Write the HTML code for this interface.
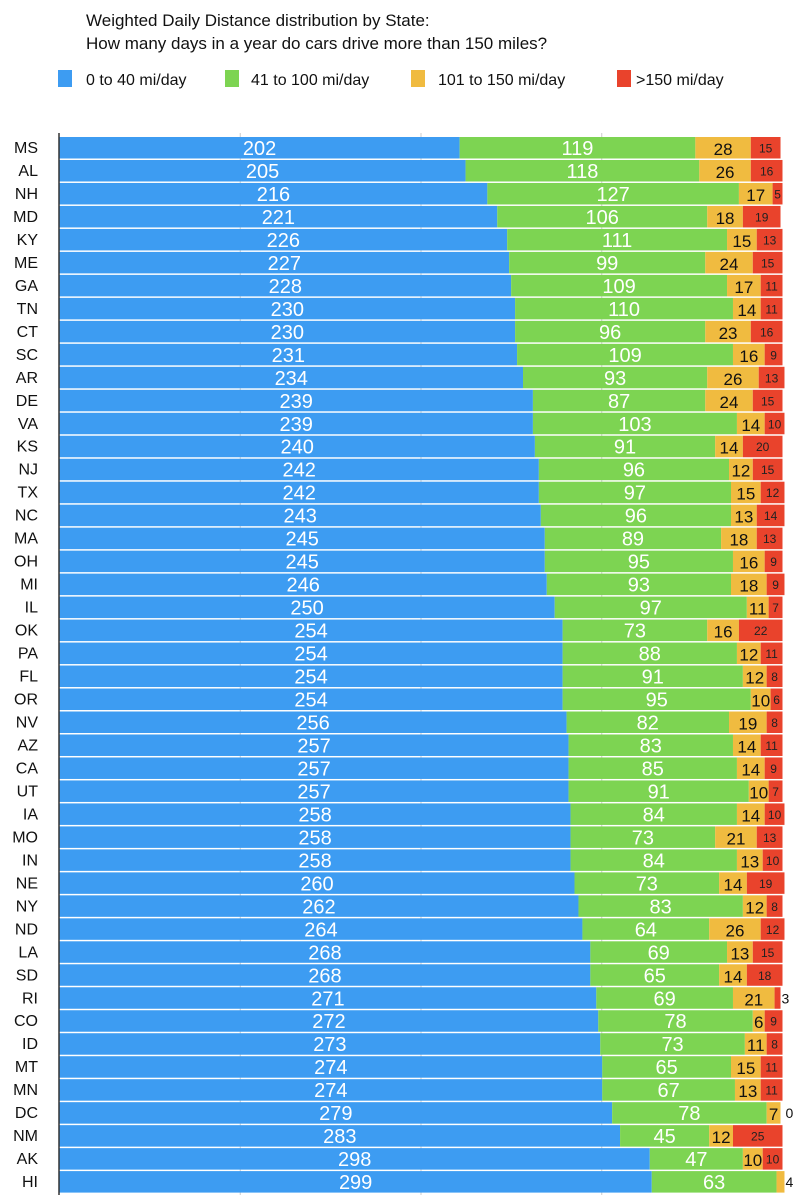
<!DOCTYPE html>
<html><head><meta charset="utf-8">
<style>
html,body{margin:0;padding:0;background:#fff;}
svg{display:block;font-family:"Liberation Sans",sans-serif;}
</style></head>
<body>
<svg id="chart" width="806" height="1200" viewBox="0 0 806 1200" xmlns="http://www.w3.org/2000/svg">
<text x="86" y="26" font-size="17" fill="#111">Weighted Daily Distance distribution by State:</text>
<text x="86" y="49" font-size="17" fill="#111">How many days in a year do cars drive more than 150 miles?</text>
<g font-size="16" fill="#111">
<rect x="58" y="70" width="14" height="17" fill="#3d9cf2"/>
<text x="86" y="85">0 to 40 mi/day</text>
<rect x="225" y="70" width="14" height="17" fill="#7dd452"/>
<text x="251" y="85">41 to 100 mi/day</text>
<rect x="411" y="70" width="14" height="17" fill="#f0bb40"/>
<text x="438" y="85">101 to 150 mi/day</text>
<rect x="617" y="70" width="14" height="17" fill="#e9432c"/>
<text x="636" y="85">&gt;150 mi/day</text>
</g>
<g id="grid"></g>
<g id="bars"></g>
<line x1="59" y1="133" x2="59" y2="1195" stroke="#333" stroke-width="1.5"/>
</svg>
<script>
const states=["MS","AL","NH","MD","KY","ME","GA","TN","CT","SC","AR","DE","VA","KS","NJ","TX","NC","MA","OH","MI","IL","OK","PA","FL","OR","NV","AZ","CA","UT","IA","MO","IN","NE","NY","ND","LA","SD","RI","CO","ID","MT","MN","DC","NM","AK","HI"];
const low=[202,205,216,221,226,227,228,230,230,231,234,239,239,240,242,242,243,245,245,246,250,254,254,254,254,256,257,257,257,258,258,258,260,262,264,268,268,271,272,273,274,274,279,283,298,299];
const mid=[119,118,127,106,111,99,109,110,96,109,93,87,103,91,96,97,96,89,95,93,97,73,88,91,95,82,83,85,91,84,73,84,73,83,64,69,65,69,78,73,65,67,78,45,47,63];
const high=[28,26,17,18,15,24,17,14,23,16,26,24,14,14,12,15,13,18,16,18,11,16,12,12,10,19,14,14,10,14,21,13,14,12,26,13,14,21,6,11,15,13,7,12,10,4];
const extreme=[15,16,5,19,13,15,11,11,16,9,13,15,10,20,15,12,14,13,9,9,7,22,11,8,6,8,11,9,7,10,13,10,19,8,12,15,18,3,9,8,11,11,0,25,10,0];
const gridDays=[91.25,182.5,273.75];

const NS="http://www.w3.org/2000/svg";
const x0=59.5, pxPerDay=723/365, top0=137, pitch=22.98, barH=21.5;
const xs=d=>x0+d*pxPerDay;
const ys=i=>top0+i*pitch;
const grid=document.getElementById('grid'), bars=document.getElementById('bars');
gridDays.forEach((d,k)=>{
  const l=document.createElementNS(NS,'line');
  
  
  l.setAttribute('x1',xs(d));l.setAttribute('x2',xs(d));
  l.setAttribute('y1',133);l.setAttribute('y2',1195);
  l.setAttribute('stroke','#ccc');l.setAttribute('stroke-width','1');
  grid.appendChild(l);
});
const series=[
 {v:low,c:"#3d9cf2",t:"#fff",fs:20,n:"low"},
 {v:mid,c:"#7dd452",t:"#fff",fs:20,n:"mid"},
 {v:high,c:"#f0bb40",t:"#111",fs:17,n:"high"},
 {v:extreme,c:"#e9432c",t:"#222",fs:12,n:"extreme"}];
states.forEach((s,i)=>{
  const y=ys(i);
  const lab=document.createElementNS(NS,'text');
  
  
  lab.setAttribute('x',38);lab.setAttribute('y',y+16);
  lab.setAttribute('text-anchor','end');lab.setAttribute('font-size','16');
  lab.setAttribute('fill','#111');lab.textContent=s;
  bars.appendChild(lab);
  let cum=0, prevOutside=false;
  series.forEach(se=>{
    const v=se.v[i];
    const r=document.createElementNS(NS,'rect');
    
    
    r.setAttribute('x',xs(cum));r.setAttribute('y',y);
    r.setAttribute('width',Math.max(0,xs(cum+v)-xs(cum)));r.setAttribute('height',barH);
    r.setAttribute('fill',se.c);
    bars.appendChild(r);
    const w=v*pxPerDay;
    const t=document.createElementNS(NS,'text');
    
    
    let show=true;
    if(w<9){
      if(v===0&&prevOutside)show=false;
      t.setAttribute('x',xs(cum+v)+(v===0?5:1));
      t.setAttribute('y',y+16);
      t.setAttribute('font-size',14);
      t.setAttribute('fill','#111');
      prevOutside=true;
    }else{
      t.setAttribute('x',xs(cum+v/2));t.setAttribute('text-anchor','middle');
      t.setAttribute('y',y+(se.fs>14?18:15.5));
      t.setAttribute('font-size',se.fs);t.setAttribute('fill',se.t);
      prevOutside=false;
    }
    t.textContent=v;
    if(show)bars.appendChild(t);
    cum+=v;
  });
});
</script>
</body></html>
